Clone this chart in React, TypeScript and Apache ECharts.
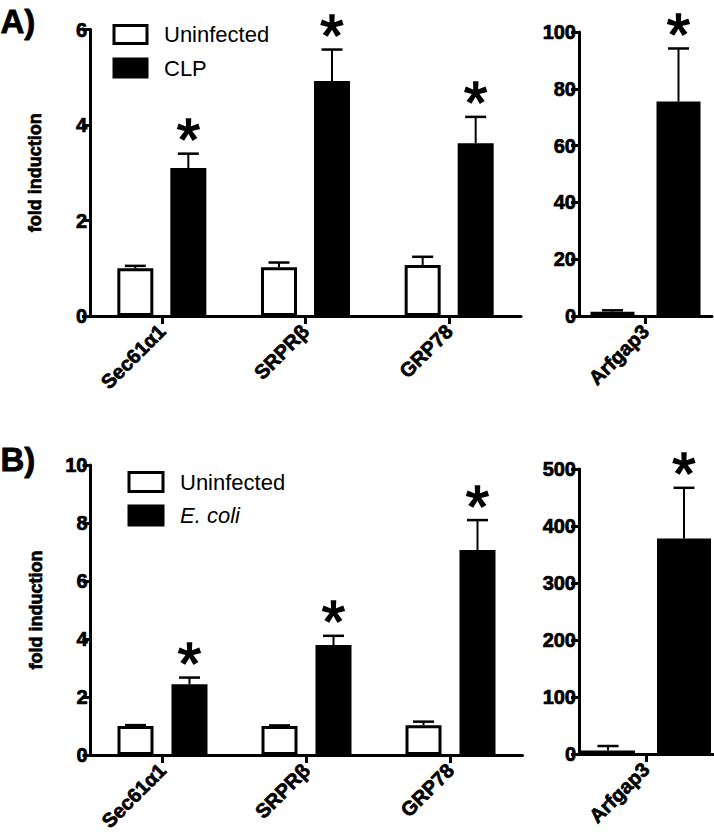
import React, { useEffect, useRef } from "react";
import * as echarts from "echarts";

// ---------- data ----------
const genesMain = ["Sec61α1", "SRPRβ", "GRP78"];
const genesSide = ["Arfgap3"];

// Panel A (CLP)
const aUninf = [1.0, 1.02, 1.07];
const aUninfErr = [0.05, 0.1, 0.17];
const aCLP = [3.1, 4.92, 3.62];
const aCLPErr = [0.3, 0.66, 0.55];
const aCLPSig = [1, 1, 1];
const aArfUninf = [1.5];
const aArfUninfErr = [0.5];
const aArfCLP = [75.5];
const aArfCLPErr = [18.7];
const aArfCLPSig = [1];

// Panel B (E. coli)
const bUninf = [1.0, 1.0, 1.03];
const bUninfErr = [0.03, 0.02, 0.12];
const bEcoli = [2.44, 3.79, 7.07];
const bEcoliErr = [0.23, 0.32, 1.03];
const bEcoliSig = [1, 1, 1];
const bArfUninf = [6];
const bArfUninfErr = [8];
const bArfEcoli = [378];
const bArfEcoliErr = [89];
const bArfEcoliSig = [1];

// axis ranges
const aMainMax = 6, aMainStep = 2;
const aSideMax = 100, aSideStep = 20;
const bMainMax = 10, bMainStep = 2;
const bSideMax = 500, bSideStep = 100;

const yLabel = "fold induction";

const FONT = '"Liberation Sans", Arial, Helvetica, sans-serif';

type Panel = {
  g: number;
  cats: string[];
  uninf: number[];
  uninfErr: number[];
  inf: number[];
  infErr: number[];
  infSig: number[];
  infName: string;
  barW: number; // outer width
  gap: number; // gap between outer edges
};

function panelSeries(p: Panel): any[] {
  const inner = p.barW - 3;
  const gapPct = ((p.gap + 3) / inner) * 100 + "%";
  const off = (p.barW + p.gap) / 2;
  const errSeries = (vals: number[], errs: number[], sig: number[], sign: number) => ({
    type: "custom",
    xAxisIndex: p.g,
    yAxisIndex: p.g,
    silent: true,
    z: 5,
    data: vals.map((v, i) => [i, v, errs[i], sig[i]]),
    encode: { x: 0, y: 1 },
    renderItem: (params: any, api: any) => {
      const i = api.value(0);
      const v = api.value(1);
      const e = api.value(2);
      const s = api.value(3);
      const base = api.coord([i, v]);
      const top = api.coord([i, v + e]);
      const x = base[0] + sign * off;
      const children: any[] = [
        { type: "line", shape: { x1: x, y1: base[1], x2: x, y2: top[1] }, style: { stroke: "#000", lineWidth: 2 } },
        { type: "line", shape: { x1: x - 10.5, y1: top[1], x2: x + 10.5, y2: top[1] }, style: { stroke: "#000", lineWidth: 2.5 } },
      ];
      if (s) {
        children.push({
          type: "text",
          x: x,
          y: top[1] - 14,
          style: {
            text: "*",
            fill: "#000",
            stroke: "#000",
            lineWidth: 1.5,
            fontSize: 60,
            fontFamily: FONT,
            fontWeight: "normal",
            align: "center",
            verticalAlign: "middle",
            textAlign: "center",
            textVerticalAlign: "middle",
          },
        });
      }
      return { type: "group", children };
    },
  });
  return [
    {
      name: "Uninfected",
      type: "bar",
      xAxisIndex: p.g,
      yAxisIndex: p.g,
      data: p.uninf,
      barWidth: inner,
      barGap: gapPct,
      itemStyle: { color: "#fff", borderColor: "#000", borderWidth: 3 },
      z: 3,
    },
    {
      name: p.infName,
      type: "bar",
      xAxisIndex: p.g,
      yAxisIndex: p.g,
      data: p.inf,
      barWidth: inner,
      barGap: gapPct,
      itemStyle: { color: "#000", borderColor: "#000", borderWidth: 3 },
      z: 3,
    },
    errSeries(p.uninf, p.uninfErr, p.uninf.map(() => 0), -1),
    errSeries(p.inf, p.infErr, p.infSig, 1),
  ];
}

const axisLineStyle = { show: true, lineStyle: { color: "#000", width: 3 } };
const heavy = { textBorderColor: "#000", textBorderWidth: 0.7 };

function xAxisFor(g: number, cats: string[]) {
  return {
    type: "category",
    gridIndex: g,
    data: cats,
    axisLine: { ...axisLineStyle, onZero: false },
    axisTick: { show: true, alignWithLabel: true, length: 8, lineStyle: { color: "#000", width: 3 } },
    axisLabel: {
      rotate: 45,
      margin: 12,
      color: "#000",
      fontSize: 20,
      fontWeight: "bold",
      fontFamily: FONT,
      ...heavy,
    },
    splitLine: { show: false },
  };
}

function yAxisFor(g: number, max: number, step: number, withName: boolean) {
  return {
    type: "value",
    gridIndex: g,
    min: 0,
    max,
    interval: step,
    axisLine: axisLineStyle,
    axisTick: { show: true, length: 8, lineStyle: { color: "#000", width: 3 } },
    axisLabel: { margin: 3, color: "#000", fontSize: 20, fontWeight: "bold", fontFamily: FONT, ...heavy },
    splitLine: { show: false },
    name: withName ? yLabel : "",
    nameLocation: "middle",
    nameGap: 46,
    nameTextStyle: { color: "#000", fontSize: 18, fontWeight: "bold", fontFamily: FONT, ...heavy },
  };
}

export default function App() {
  const ref = useRef<HTMLDivElement>(null);
  useEffect(() => {
    if (!ref.current) return;
    const chart = echarts.init(ref.current, null, { renderer: "svg" });
    const panels: Panel[] = [
      { g: 0, cats: genesMain, uninf: aUninf, uninfErr: aUninfErr, inf: aCLP, infErr: aCLPErr, infSig: aCLPSig, infName: "CLP", barW: 39, gap: 14 },
      { g: 1, cats: genesSide, uninf: aArfUninf, uninfErr: aArfUninfErr, inf: aArfCLP, infErr: aArfCLPErr, infSig: aArfCLPSig, infName: "CLP", barW: 47, gap: 19 },
      { g: 2, cats: genesMain, uninf: bUninf, uninfErr: bUninfErr, inf: bEcoli, infErr: bEcoliErr, infSig: bEcoliSig, infName: "E. coli", barW: 39, gap: 15 },
      { g: 3, cats: genesSide, uninf: bArfUninf, uninfErr: bArfUninfErr, inf: bArfEcoli, infErr: bArfEcoliErr, infSig: bArfEcoliSig, infName: "E. coli", barW: 57, gap: 19 },
    ];
    const legendText = { color: "#000", fontSize: 22, fontFamily: FONT, padding: [0, 0, 0, 12] };
    const option: any = {
      animation: false,
      backgroundColor: "#fff",
      grid: [
        { left: 90, top: 29.5, width: 431, height: 286.5 },
        { left: 579, top: 32, width: 133, height: 284 },
        { left: 90.5, top: 465, width: 432, height: 290 },
        { left: 579, top: 469, width: 134, height: 285 },
      ],
      xAxis: [xAxisFor(0, genesMain), xAxisFor(1, genesSide), xAxisFor(2, genesMain), xAxisFor(3, genesSide)],
      yAxis: [
        yAxisFor(0, aMainMax, aMainStep, true),
        yAxisFor(1, aSideMax, aSideStep, false),
        yAxisFor(2, bMainMax, bMainStep, true),
        yAxisFor(3, bSideMax, bSideStep, false),
      ],
      legend: [
        {
          orient: "vertical",
          left: 112.5,
          top: 23.5,
          padding: 0,
          itemGap: 11.5,
          itemWidth: 33,
          itemHeight: 18,
          selectedMode: false,
          icon: "rect",
          textStyle: legendText,
          data: [
            { name: "Uninfected", itemStyle: { color: "#fff", borderColor: "#000", borderWidth: 3 } },
            { name: "CLP", itemStyle: { color: "#000", borderColor: "#000", borderWidth: 3 } },
          ],
        },
        {
          orient: "vertical",
          left: 127.5,
          top: 471,
          padding: 0,
          itemGap: 11.5,
          itemWidth: 34,
          itemHeight: 19,
          selectedMode: false,
          icon: "rect",
          textStyle: legendText,
          data: [
            { name: "Uninfected", itemStyle: { color: "#fff", borderColor: "#000", borderWidth: 3 } },
            {
              name: "E. coli",
              itemStyle: { color: "#000", borderColor: "#000", borderWidth: 3 },
              textStyle: { fontStyle: "italic" },
            },
          ],
        },
      ],
      graphic: [
        { type: "text", left: 0, top: 5, style: { text: "A)", fill: "#000", fontSize: 33, fontWeight: "bold", fontFamily: FONT, stroke: "#000", lineWidth: 0.8 } },
        { type: "text", left: 0, top: 443, style: { text: "B)", fill: "#000", fontSize: 33, fontWeight: "bold", fontFamily: FONT, stroke: "#000", lineWidth: 0.8 } },
      ],
      series: panels.flatMap(panelSeries),
    };
    chart.setOption(option);
    return () => chart.dispose();
  }, []);
  return <div ref={ref} style={{ position: "absolute", left: 0, top: 0, width: 714, height: 840 }} />;
}
